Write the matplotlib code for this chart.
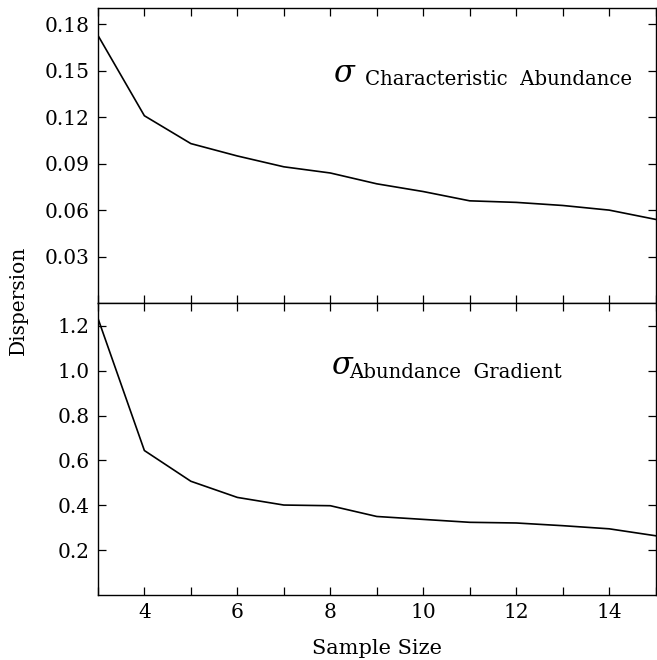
import matplotlib
matplotlib.use("Agg")
import matplotlib.pyplot as plt

plt.rcParams['font.family'] = ['DejaVu Serif']

sample_size = [3, 4, 5, 6, 7, 8, 9, 10, 11, 12, 13, 14, 15]

sigma_char_abund = [0.173, 0.121, 0.103, 0.095, 0.088, 0.084, 0.077,
                    0.072, 0.066, 0.065, 0.063, 0.060, 0.054]

sigma_abund_grad = [1.234, 0.644, 0.507, 0.435, 0.401, 0.398, 0.350,
                    0.337, 0.324, 0.321, 0.309, 0.295, 0.264]

top_yticks = [0.03, 0.06, 0.09, 0.12, 0.15, 0.18]
top_ylabels = ["0.03", "0.06", "0.09", "0.12", "0.15", "0.18"]
bot_yticks = [0.2, 0.4, 0.6, 0.8, 1.0, 1.2]
bot_ylabels = ["0.2", "0.4", "0.6", "0.8", "1.0", "1.2"]
xticks_major = [4, 6, 8, 10, 12, 14]

fig = plt.figure(figsize=(6.57, 6.6), dpi=100)
ax1 = fig.add_axes([0.149, 0.541, 0.849, 0.447])
ax2 = fig.add_axes([0.149, 0.0985, 0.849, 0.4425])

for ax in (ax1, ax2):
    ax.set_xlim(3, 15)
    ax.set_xticks(range(3, 16), minor=True)
    ax.set_xticks(xticks_major)
    ax.tick_params(which="both", direction="in", top=True, right=True,
                   length=6, width=0.9, labelsize=14.5, pad=6)
    for s in ax.spines.values():
        s.set_linewidth(1.0)

ax1.plot(sample_size, sigma_char_abund, color="black", lw=1.2)
ax1.set_ylim(0, 0.1907)
ax1.set_yticks(top_yticks)
ax1.set_yticklabels(top_ylabels)
ax1.tick_params(labelbottom=False)
ax1.text(0.421, 0.750, "σ", transform=ax1.transAxes, fontsize=22,
         style="italic", va="baseline")
ax1.text(0.479, 0.739, "Characteristic  Abundance", transform=ax1.transAxes,
         fontsize=14.2, va="baseline")

ax2.plot(sample_size, sigma_abund_grad, color="black", lw=1.2)
ax2.set_ylim(0, 1.302)
ax2.set_yticks(bot_yticks)
ax2.set_yticklabels(bot_ylabels)
ax2.text(0.419, 0.755, "σ", transform=ax2.transAxes, fontsize=22,
         style="italic", va="baseline")
ax2.text(0.451, 0.743, "Abundance  Gradient", transform=ax2.transAxes,
         fontsize=14.2, va="baseline")
ax2.set_xlabel("Sample Size", fontsize=15, labelpad=12)

fig.text(0.028, 0.545, "Dispersion", rotation=90, fontsize=14.5,
         ha="center", va="center")

fig.savefig("out.png", dpi=100)
